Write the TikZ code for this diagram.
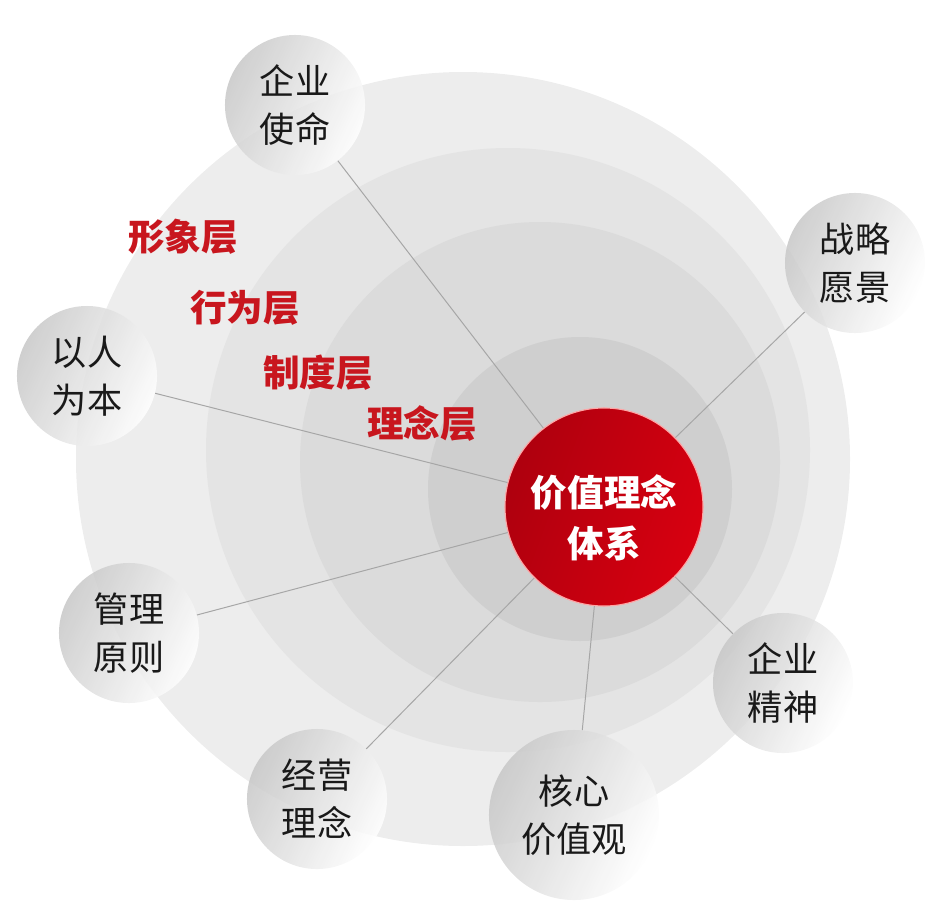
\documentclass[tikz,border=0pt]{standalone}
\usepackage{fontspec}
\usepackage{xcolor}
\usepackage{tikz}
\usetikzlibrary{calc}

\newfontfamily\cjkfont{Noto Sans CJK SC}

\definecolor{ringone}{HTML}{EDEDED}
\definecolor{ringtwo}{HTML}{E4E4E4}
\definecolor{ringthree}{HTML}{DBDBDB}
\definecolor{ringfour}{HTML}{CFCFCF}
\definecolor{darkred}{HTML}{AE000E}
\definecolor{lightred}{HTML}{D80010}
\definecolor{layerred}{HTML}{C8161E}

\begin{document}
\begin{tikzpicture}[x=0.025cm,y=-0.025cm]
    \tikzstyle{every node}=[font=\cjkfont\fontsize{25}{34}\selectfont]
    \tikzstyle{ball}=[circle,minimum size=3.5cm,inner sep=0pt,align=center,text=black!90,left color=black!22,right color=white,shading angle=65,fill opacity=0.85,text opacity=1]
    \tikzstyle{layer}=[text=layerred,font=\cjkfont\bfseries\fontsize{26}{30}\selectfont]
    \tikzstyle{link}=[draw=black!35,line width=0.7pt]

    \useasboundingbox (0,0) rectangle (945,921);

    % rings, not concentric
    \fill[ringone]   (463,459) circle (387);
    \fill[ringtwo]   (508,450) circle (302);
    \fill[ringthree] (540,462) circle (240);
    \fill[ringfour]  (580,489) circle (152);

    \node[circle,minimum size=4.95cm,left color=darkred,right color=lightred,shading angle=70,draw=red!35!white,line width=0.8pt] (core) at (604,507) {} ;
    \node[text=white,align=center,font=\cjkfont\bfseries\fontsize{26}{36}\selectfont] (coretext) at (604,518) {价值理念\\体系} ;

    \node[ball] (mission)  at (295,105) {企业\\使命} ;
    \node[ball] (vision)   at (855,263) {战略\\愿景} ;
    \node[ball] (people)   at (87,376)  {以人\\为本} ;
    \node[ball] (rule)     at (129,633) {管理\\原则} ;
    \node[ball] (business) at (317,799) {经营\\理念} ;
    \node[ball,minimum size=4.25cm] (values) at (574,815) {核心\\价值观} ;
    \node[ball] (spirit)   at (783,683) {企业\\精神} ;

    \node[layer] (image)    at (183,237) {形象层} ;
    \node[layer] (behavior) at (245,308) {行为层} ;
    \node[layer] (system)   at (318,373) {制度层} ;
    \node[layer] (concept)  at (422,424) {理念层} ;

    \foreach \b in {mission,vision,people,rule,business,values,spirit}{%
      \draw[link] (\b) -- (core) ;}

\end{tikzpicture}
\end{document}
